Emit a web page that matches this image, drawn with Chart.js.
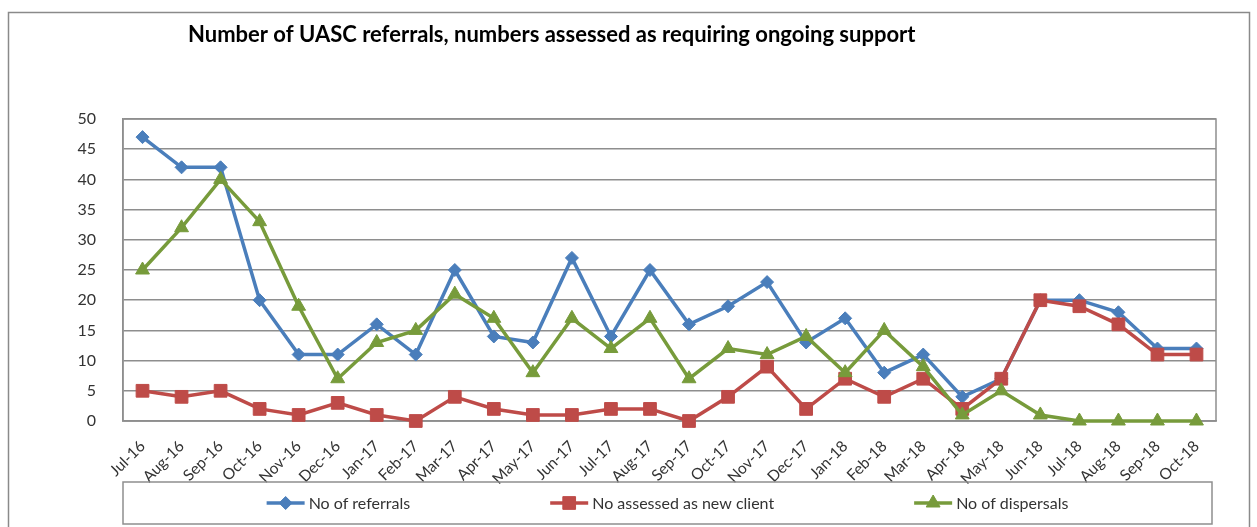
<!DOCTYPE html>
<html>
<head>
<meta charset="utf-8">
<title>UASC referrals</title>
<script src="https://cdn.jsdelivr.net/npm/chart.js@4.4.1/dist/chart.umd.min.js"></script>
<style>
    html, body { margin: 0; padding: 0; background: #fff; }
    #chart-wrap { width: 1257px; height: 527px; position: relative; }
</style>
</head>
<body>
<div id="chart-wrap"><canvas id="uasc-chart" width="1257" height="527"></canvas></div>
<script>
const months = [
    'Jul-16', 'Aug-16', 'Sep-16', 'Oct-16', 'Nov-16', 'Dec-16',
    'Jan-17', 'Feb-17', 'Mar-17', 'Apr-17', 'May-17', 'Jun-17',
    'Jul-17', 'Aug-17', 'Sep-17', 'Oct-17', 'Nov-17', 'Dec-17',
    'Jan-18', 'Feb-18', 'Mar-18', 'Apr-18', 'May-18', 'Jun-18',
    'Jul-18', 'Aug-18', 'Sep-18', 'Oct-18',
];
const referrals = [47, 42, 42, 20, 11, 11, 16, 11, 25, 14, 13, 27, 14, 25, 16, 19, 23, 13, 17, 8, 11, 4, 7, 20, 20, 18, 12, 12];
const newClients = [5, 4, 5, 2, 1, 3, 1, 0, 4, 2, 1, 1, 2, 2, 0, 4, 9, 2, 7, 4, 7, 2, 7, 20, 19, 16, 11, 11];
const dispersals = [25, 32, 40, 33, 19, 7, 13, 15, 21, 17, 8, 17, 12, 17, 7, 12, 11, 14, 8, 15, 9, 1, 5, 1, 0, 0, 0, 0];
const yMax = 50;
const yStep = 5;

const chartTitle = 'Number of UASC referrals, numbers assessed as requiring ongoing support';
const fontFamily = "Lato, 'Open Sans', 'Liberation Sans', sans-serif";
const gridColor = '#8e8e8e';
const textColor = '#333333';

const palette = {
    referrals: '#4a7ebb',
    newClients: '#be4b48',
    dispersals: '#779b3b',
};

function seriesStyle(color, pointStyle, radius, order) {
    return {
        borderColor: color,
        backgroundColor: color,
        borderWidth: 3.5,
        tension: 0,
        pointStyle,
        pointRadius: radius,
        pointHoverRadius: radius,
        pointBorderWidth: 1,
        pointBorderColor: color,
        pointBackgroundColor: color,
        clip: false,
        order,
    };
}

// white page + outer frame, and the plot box
const framePlugin = {
    id: 'frame',
    beforeDraw(chart) {
        const { ctx, width, height } = chart;
        ctx.save();
        ctx.fillStyle = '#ffffff';
        ctx.fillRect(0, 0, width, height);
        ctx.strokeStyle = '#8a8a8a';
        ctx.lineWidth = 1.5;
        ctx.strokeRect(8.5, 12.5, width - 16, height + 10);
        ctx.restore();
    },
    beforeDatasetsDraw(chart) {
        const { ctx, chartArea: a } = chart;
        ctx.save();
        ctx.strokeStyle = gridColor;
        ctx.lineWidth = 1.5;
        ctx.strokeRect(a.left, a.top, a.right - a.left, a.bottom - a.top);
        ctx.restore();
    },
};

const titlePlugin = {
    id: 'excelTitle',
    afterDraw(chart) {
        const { ctx } = chart;
        ctx.save();
        ctx.font = `bold 22px ${fontFamily}`;
        ctx.fillStyle = '#000000';
        ctx.textBaseline = 'middle';
        ctx.textAlign = 'left';
        ctx.fillText(chartTitle, 188, 35);
        ctx.restore();
    },
};

// Excel style legend: boxed, line + marker per series
const legendPlugin = {
    id: 'excelLegend',
    afterDraw(chart) {
        const { ctx, chartArea } = chart;
        const box = { left: chartArea.left, top: 482, right: chartArea.right - 4, bottom: 524 };
        const lineLen = 38;
        const textGap = 4;
        const itemGap = 140;
        const midY = (box.top + box.bottom) / 2;

        ctx.save();
        ctx.strokeStyle = gridColor;
        ctx.lineWidth = 1.5;
        ctx.strokeRect(box.left, box.top, box.right - box.left, box.bottom - box.top);

        ctx.font = `16px ${fontFamily}`;
        const items = chart.data.datasets.map((ds) => ({
            ds,
            width: lineLen + textGap + ctx.measureText(ds.label).width,
        }));
        const total = items.reduce((s, it) => s + it.width, 0) + itemGap * (items.length - 1);
        let x = (box.left + box.right) / 2 - total / 2;

        items.forEach(({ ds, width }) => {
            ctx.strokeStyle = ds.borderColor;
            ctx.lineWidth = ds.borderWidth;
            ctx.beginPath();
            ctx.moveTo(x, midY);
            ctx.lineTo(x + lineLen, midY);
            ctx.stroke();

            ctx.fillStyle = ds.backgroundColor;
            ctx.strokeStyle = ds.borderColor;
            ctx.lineWidth = 1;
            Chart.helpers.drawPoint(ctx, {
                pointStyle: ds.pointStyle,
                radius: ds.pointRadius,
                rotation: 0,
                borderWidth: 1,
            }, x + lineLen / 2, midY);

            ctx.fillStyle = textColor;
            ctx.textBaseline = 'middle';
            ctx.textAlign = 'left';
            ctx.fillText(ds.label, x + lineLen + textGap, midY + 1);
            x += width + itemGap;
        });
        ctx.restore();
    },
};

const canvas = document.getElementById('uasc-chart');
new Chart(canvas, {
    type: 'line',
    data: {
        labels: months,
        datasets: [
            { label: 'No of referrals', data: referrals, ...seriesStyle(palette.referrals, 'rectRot', 6.5, 3) },
            { label: 'No assessed as new client', data: newClients, ...seriesStyle(palette.newClients, 'rect', 9, 2) },
            { label: 'No of dispersals', data: dispersals, ...seriesStyle(palette.dispersals, 'triangle', 8, 1) },
        ],
    },
    options: {
        responsive: false,
        animation: false,
        events: [],
        layout: { padding: { left: 8, top: 119, right: 41, bottom: 0 } },
        plugins: {
            legend: { display: false },
            title: { display: false },
            tooltip: { enabled: false },
        },
        scales: {
            x: {
                offset: true,
                grid: { display: false, drawTicks: false },
                border: { display: true, color: gridColor, width: 1.5 },
                ticks: {
                    autoSkip: false,
                    minRotation: 45,
                    maxRotation: 45,
                    padding: 16,
                    color: textColor,
                    font: { family: fontFamily, size: 15.5 },
                },
                afterFit(scale) {
                    scale.height = 106;
                },
            },
            y: {
                min: 0,
                max: yMax,
                grid: { color: gridColor, lineWidth: 1.5, drawTicks: false },
                border: { display: true, color: gridColor, width: 1.5 },
                ticks: {
                    stepSize: yStep,
                    padding: 27,
                    color: textColor,
                    font: { family: fontFamily, size: 16 },
                },
                afterFit(scale) {
                    scale.width = 115;
                },
            },
        },
    },
    plugins: [framePlugin, titlePlugin, legendPlugin],
});
</script>
</body>
</html>
